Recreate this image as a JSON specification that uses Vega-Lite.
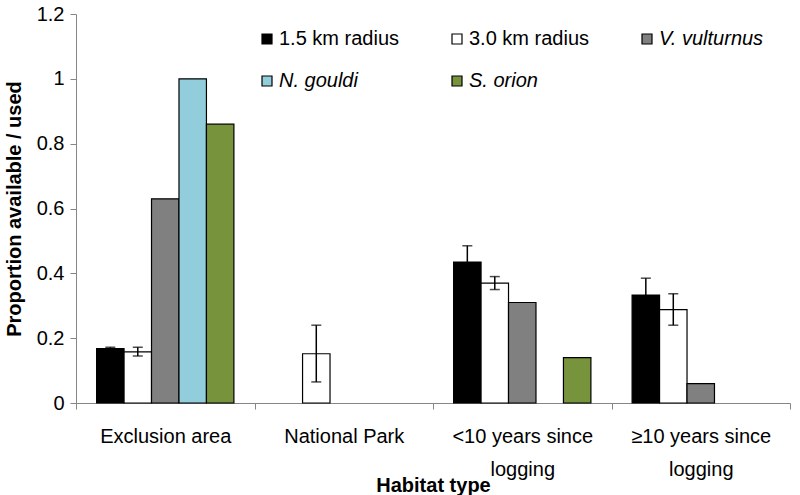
{
  "$schema": "https://vega.github.io/schema/vega-lite/v6.json",
  "autosize": {"type": "none"},
  "width": 714,
  "height": 389,
  "padding": {"left": 76, "top": 14, "right": 10, "bottom": 92},
  "background": "white",
  "config": {
    "font": "Liberation Sans",
    "view": {"stroke": null},
    "axis": {"labelFont": "Liberation Sans", "titleFont": "Liberation Sans", "labelColor": "#000000", "titleColor": "#000000", "domainColor": "#868686", "tickColor": "#868686", "grid": false}
  },
  "datasets": {
    "bars": [
      {"habitat": "Exclusion area", "series": "1.5 km radius", "value": 0.168},
      {"habitat": "Exclusion area", "series": "3.0 km radius", "value": 0.158},
      {"habitat": "Exclusion area", "series": "V. vulturnus", "value": 0.63},
      {"habitat": "Exclusion area", "series": "N. gouldi", "value": 1.0},
      {"habitat": "Exclusion area", "series": "S. orion", "value": 0.86},
      {"habitat": "National Park", "series": "3.0 km radius", "value": 0.152},
      {"habitat": "<10 years since logging", "series": "1.5 km radius", "value": 0.435},
      {"habitat": "<10 years since logging", "series": "3.0 km radius", "value": 0.37},
      {"habitat": "<10 years since logging", "series": "V. vulturnus", "value": 0.31},
      {"habitat": "<10 years since logging", "series": "S. orion", "value": 0.14},
      {"habitat": "≥10 years since logging", "series": "1.5 km radius", "value": 0.333},
      {"habitat": "≥10 years since logging", "series": "3.0 km radius", "value": 0.288},
      {"habitat": "≥10 years since logging", "series": "V. vulturnus", "value": 0.06}
    ],
    "errs": [
      {"habitat": "Exclusion area", "series": "1.5 km radius", "lo": 0.164, "hi": 0.172},
      {"habitat": "Exclusion area", "series": "3.0 km radius", "lo": 0.145, "hi": 0.172},
      {"habitat": "National Park", "series": "3.0 km radius", "lo": 0.065, "hi": 0.24},
      {"habitat": "<10 years since logging", "series": "1.5 km radius", "lo": 0.385, "hi": 0.485},
      {"habitat": "<10 years since logging", "series": "3.0 km radius", "lo": 0.35, "hi": 0.39},
      {"habitat": "≥10 years since logging", "series": "1.5 km radius", "lo": 0.28, "hi": 0.385},
      {"habitat": "≥10 years since logging", "series": "3.0 km radius", "lo": 0.24, "hi": 0.337}
    ]
  },
  "layer": [
    {
      "data": {"name": "bars"},
      "mark": {"type": "bar", "stroke": "#000000", "strokeWidth": 1.2},
      "encoding": {
        "x": {
          "field": "habitat", "type": "nominal",
          "sort": ["Exclusion area", "National Park", "<10 years since logging", "≥10 years since logging"],
          "scale": {"domain": ["Exclusion area", "National Park", "<10 years since logging", "≥10 years since logging"], "paddingInner": 0, "paddingOuter": 0},
          "axis": {
            "title": "Habitat type", "titleFontSize": 20, "titleFontWeight": "bold", "titleY": 88, "titleBaseline": "alphabetic",
            "labelAngle": 0, "labelFontSize": 20, "labelPadding": 17, "labelLineHeight": 33, "labelLimit": 300,
            "tickBand": "extent", "tickSize": 6,
            "labelExpr": "datum.value == '<10 years since logging' ? ['<10 years since', 'logging'] : datum.value == '≥10 years since logging' ? ['≥10 years since', 'logging'] : datum.value"
          }
        },
        "xOffset": {
          "field": "series", "type": "nominal",
          "scale": {"domain": ["1.5 km radius", "3.0 km radius", "V. vulturnus", "N. gouldi", "S. orion"], "paddingOuter": 0.75, "paddingInner": 0}
        },
        "y": {
          "field": "value", "type": "quantitative",
          "scale": {"domain": [0, 1.2], "nice": false},
          "axis": {"title": "Proportion available / used", "titleFontSize": 20, "titleFontWeight": "bold", "titlePadding": 12, "labelFontSize": 20, "values": [0, 0.2, 0.4, 0.6, 0.8, 1, 1.2], "format": "~g", "tickSize": 6, "labelPadding": 6}
        },
        "color": {
          "field": "series", "type": "nominal",
          "scale": {"domain": ["1.5 km radius", "3.0 km radius", "V. vulturnus", "N. gouldi", "S. orion"], "range": ["#000000", "#ffffff", "#808080", "#92cddc", "#77933c"]},
          "legend": {
            "title": null, "orient": "none", "legendX": 181, "legendY": 15, "direction": "horizontal", "columns": 3,
            "symbolType": "square", "symbolSize": 100, "symbolStrokeColor": "#000000", "symbolStrokeWidth": 1.2,
            "labelFontSize": 20, "labelFont": "Liberation Sans", "labelColor": "#000000", "columnPadding": 47, "rowPadding": 22, "labelOffset": 2,
            "encode": {"labels": {"update": {"fontStyle": {"signal": "indexof(['V. vulturnus','N. gouldi','S. orion'], datum.value) >= 0 ? 'italic' : 'normal'"}}}}
          }
        }
      }
    },
    {
      "data": {"name": "errs"},
      "mark": {"type": "rule", "color": "#000000", "strokeWidth": 1.5},
      "encoding": {
        "x": {"field": "habitat", "type": "nominal"},
        "xOffset": {"field": "series", "type": "nominal"},
        "y": {"field": "lo", "type": "quantitative"},
        "y2": {"field": "hi"}
      }
    },
    {
      "data": {"name": "errs"},
      "mark": {"type": "tick", "color": "#000000", "thickness": 1.5, "size": 10},
      "encoding": {
        "x": {"field": "habitat", "type": "nominal"},
        "xOffset": {"field": "series", "type": "nominal"},
        "y": {"field": "lo", "type": "quantitative"}
      }
    },
    {
      "data": {"name": "errs"},
      "mark": {"type": "tick", "color": "#000000", "thickness": 1.5, "size": 10},
      "encoding": {
        "x": {"field": "habitat", "type": "nominal"},
        "xOffset": {"field": "series", "type": "nominal"},
        "y": {"field": "hi", "type": "quantitative"}
      }
    }
  ]
}
